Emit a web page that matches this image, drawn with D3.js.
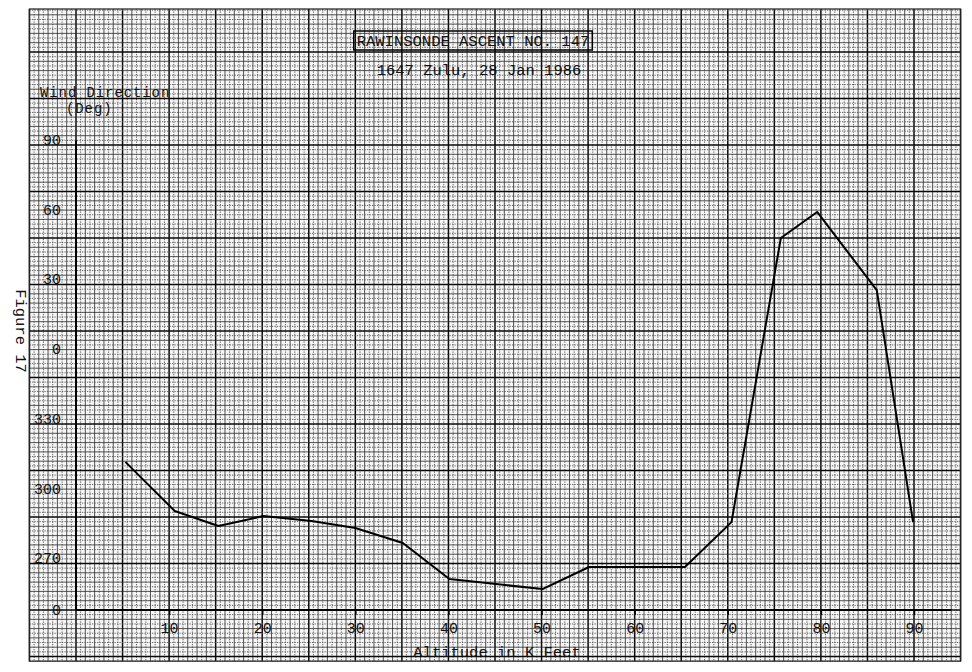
<!DOCTYPE html>
<html>
<head>
<meta charset="utf-8">
<script src="https://cdn.jsdelivr.net/npm/d3@7"></script>
<style>
  html, body { margin: 0; padding: 0; background: #fff; }
  svg { display: block; }
  text { font-family: "Liberation Mono", "DejaVu Sans Mono", monospace; fill: #111; }
</style>
</head>
<body>
<svg id="chart" width="972" height="672"></svg>
<script>
// ---- data ----
const altitude = [5.3, 10.6, 15.3, 20.1, 25.3, 30.0, 35.1, 40.1, 50.1, 55.1, 65.4, 70.4, 75.7, 79.6, 86.0, 89.9];
// wind direction unwrapped: values above 360 mean (value - 360) degrees
const direction = [313.7, 292.6, 286.1, 290.4, 288.3, 285.3, 278.8, 263.3, 259.0, 268.5, 268.5, 287.8, 410.0, 421.2, 387.6, 287.8];
const xTicks = [10, 20, 30, 40, 50, 60, 70, 80, 90];
const yTicks = [270, 300, 330, 360, 390, 420, 450];
const yTickLabels = ["270", "300", "330", "0", "30", "60", "90"];
const titleText = "RAWINSONDE ASCENT NO. 147";
const subtitleText = "1647 Zulu, 28 Jan 1986";
const yTitle = ["Wind Direction", "(Deg)"];
const xTitle = "Altitude in K Feet";
const figureLabel = "Figure 17";

const svg = d3.select("#chart");
const x = d3.scaleLinear().domain([0, 90]).range([76, 914]);
const y = d3.scaleLinear().domain([250, 450]).range([610, 145]);

// ---- graph paper ----
const paperX = [-5, 95];
const paperY = [228, 508.5];
const paper = svg.append("g");
paper.append("rect")
  .attr("x", x(paperX[0])).attr("y", y(paperY[1]))
  .attr("width", x(paperX[1]) - x(paperX[0]))
  .attr("height", y(paperY[0]) - y(paperY[1]))
  .attr("fill", "#f6f6f6");

const vLines = d3.range(0, 201).map(k => ({v: paperX[0] + k * 0.5, k}));
const hLines = d3.range(0, 141).map(k => ({v: paperY[0] + k * 2, k}));

function lineStyle(sel, heavyTest, midTest) {
  sel.attr("stroke", d => heavyTest(d) ? "#0a0a0a" : midTest(d) ? "#2a2a2a" : "#555")
     .attr("stroke-width", d => heavyTest(d) ? 1.5 : midTest(d) ? 0.8 : 0.9)
     .attr("stroke-dasharray", d => heavyTest(d) || midTest(d) ? null : "1.3,1.2");
}

lineStyle(paper.selectAll("line.v").data(vLines).join("line")
  .attr("x1", d => x(d.v)).attr("x2", d => x(d.v))
  .attr("y1", y(paperY[1])).attr("y2", y(paperY[0])),
  d => d.k % 10 === 0, d => d.k % 2 === 0);

lineStyle(paper.selectAll("line.h").data(hLines).join("line")
  .attr("y1", d => y(d.v)).attr("y2", d => y(d.v))
  .attr("x1", x(paperX[0])).attr("x2", x(paperX[1])),
  d => (d.v - 230) % 20 === 0, d => (d.v - 230) % 4 === 0);

paper.append("rect")
  .attr("x", x(paperX[0])).attr("y", y(paperY[1]))
  .attr("width", x(paperX[1]) - x(paperX[0]))
  .attr("height", y(paperY[0]) - y(paperY[1]))
  .attr("fill", "none").attr("stroke", "#222").attr("stroke-width", 1.2);

// ---- axes ----
svg.append("line").attr("x1", x(0)).attr("x2", x(0))
  .attr("y1", y(452)).attr("y2", y(250))
  .attr("stroke", "#000").attr("stroke-width", 2);
svg.append("line").attr("x1", x(0)).attr("x2", x(94))
  .attr("y1", y(250)).attr("y2", y(250))
  .attr("stroke", "#000").attr("stroke-width", 2);

const yAxis = d3.axisLeft(y).tickValues(yTicks).tickSize(0).tickPadding(15)
  .tickFormat((d, i) => yTickLabels[i]);
const gy = svg.append("g").attr("transform", `translate(${x(0)},0)`).call(yAxis);
gy.select(".domain").remove();
gy.selectAll("text").attr("font-size", 15).attr("dy", "-0.05em")
  .style("font-family", '"Liberation Mono", monospace').attr("fill", "#111");

const xAxis = d3.axisBottom(x).tickValues(xTicks).tickSize(5).tickPadding(7)
  .tickFormat(d => String(d));
const gx = svg.append("g").attr("transform", `translate(0,${y(250)})`).call(xAxis);
gx.select(".domain").remove();
gx.selectAll("line").attr("stroke", "#000").attr("stroke-width", 1.5);
gx.selectAll("text").attr("font-size", 15)
  .style("font-family", '"Liberation Mono", monospace').attr("fill", "#111");

svg.append("text").attr("x", 61).attr("y", y(250) + 5)
  .attr("text-anchor", "end").attr("font-size", 15).text("0");

// ---- data line ----
const pts = altitude.map((a, i) => [a, direction[i]]);
svg.append("path").datum(pts)
  .attr("fill", "none").attr("stroke", "#000").attr("stroke-width", 2)
  .attr("stroke-linejoin", "round")
  .attr("d", d3.line().x(d => x(d[0])).y(d => y(d[1])));

// ---- texts ----
const title = svg.append("text").attr("x", 473).attr("y", 46)
  .attr("text-anchor", "middle").attr("font-size", 15.5).text(titleText);
const bb = title.node().getBBox();
svg.append("rect").attr("x", bb.x - 3).attr("y", 31).attr("width", bb.width + 6).attr("height", 19)
  .attr("fill", "none").attr("stroke", "#000").attr("stroke-width", 1.5);

svg.append("text").attr("x", 479).attr("y", 75)
  .attr("text-anchor", "middle").attr("font-size", 15.5).text(subtitleText);

svg.append("text").attr("x", 40).attr("y", 97).attr("font-size", 14)
  .attr("letter-spacing", 0.9).text(yTitle[0]);
svg.append("text").attr("x", 66).attr("y", 113).attr("font-size", 14)
  .attr("letter-spacing", 0.9).text(yTitle[1]);

svg.append("text").attr("x", 497).attr("y", 657)
  .attr("text-anchor", "middle").attr("font-size", 15.5).text(xTitle);

svg.append("text").attr("transform", "translate(16,331) rotate(90)")
  .attr("text-anchor", "middle").attr("font-size", 15.5).text(figureLabel);
</script>
</body>
</html>
